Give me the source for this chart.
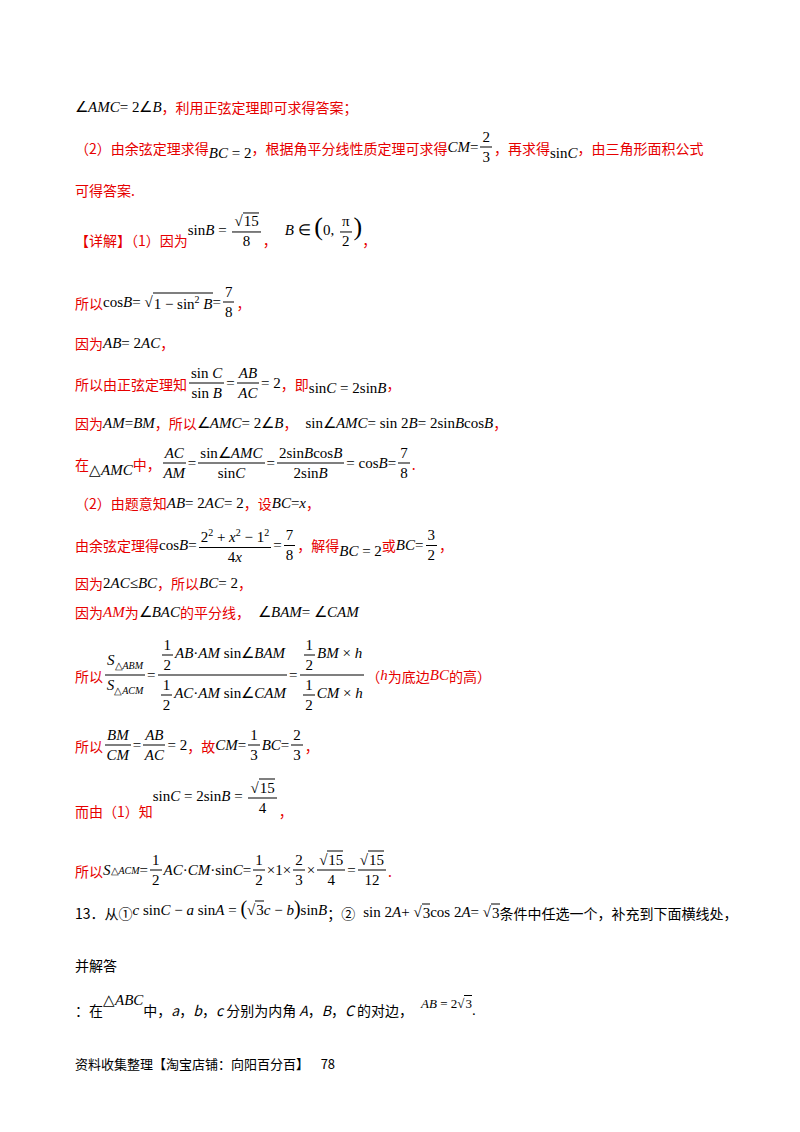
<!DOCTYPE html>
<html><head><meta charset="utf-8">
<script src="https://cdn.jsdelivr.net/npm/chart.js@4"></script>
<style>
body{margin:0;width:800px;height:1132px;background:#fff;position:relative;overflow:hidden}
.ln{position:absolute;left:75px;white-space:nowrap;font-family:"Liberation Serif","Times New Roman",serif;font-size:15px;color:#000;transform:translateY(-50%);display:flex;align-items:center}
.r{color:#e60000;font-family:"Noto Sans CJK SC",sans-serif;font-size:14px}
.k{color:#000;font-family:"Noto Sans CJK SC",sans-serif;font-size:14px}
i{font-style:italic}
.fr{display:inline-flex;flex-direction:column;align-items:center;vertical-align:middle;margin:0 2px}
.fr>span:first-child{border-bottom:1px solid #000;padding:0 2px}
.fr>span{line-height:19px}
.sq{border-top:1px solid #000;padding-left:1px}
.sub{font-size:10px;vertical-align:-4px}
.sup{font-size:10px;vertical-align:6px}
.m{margin:0 4px}
</style></head><body>
<script>
const f=(a,b)=>`<span class="fr"><span>${a}</span><span>${b}</span></span>`;
const R=t=>`<span class="r">${t}</span>`;
const rt=t=>`√<span class="sq">${t}</span>`;
const h=`<i>h</i>`;
// page lines: [y, html]
const lineY=[107,147,190,240,302,343,383,423,463,503,545,583,612,675,745,810,870,912,965,1010,1063];
const lineHtml=[
`∠<i>AMC</i> = 2∠<i>B</i>${R('，利用正弦定理即可求得答案；')}`,
`${R('（2）由余弦定理求得')}<span style="position:relative;top:6px"><i>BC</i> = 2</span>${R('，根据角平分线性质定理可求得')}<i>CM</i> = ${f('2','3')}${R('，再求得')}<span style="position:relative;top:6px">sin<i>C</i></span>${R('，由三角形面积公式')}`,
`${R('可得答案.')}`,
`${R('【详解】（1）因为')}<span style="position:relative;top:-8px">sin<i>B</i> = ${f(rt('15'),'8')}</span>${R('，')}<span class="m"></span><span style="position:relative;top:-8px"><i>B</i> ∈ <span style="font-size:26px">(</span>0, ${f('π','2')}<span style="font-size:26px">)</span></span>${R('，')}`,
`${R('所以')}cos<i>B</i> = ${rt('1 − sin<span class="sup">2</span> <i>B</i>')} = ${f('7','8')}${R('，')}`,
`${R('因为')}<i>AB</i> = 2<i>AC</i>${R('，')}`,
`${R('所以由正弦定理知')}${f('sin <i>C</i>','sin <i>B</i>')} = ${f('<i>AB</i>','<i>AC</i>')} = 2${R('，即')}<span style="position:relative;top:5px">sin<i>C</i> = 2sin<i>B</i></span>${R('，')}`,
`${R('因为')}<i>AM</i> = <i>BM</i>${R('，所以')}∠<i>AMC</i> = 2∠<i>B</i>${R('，')}<span class="m"></span>sin∠<i>AMC</i> = sin 2<i>B</i> = 2sin<i>B</i>cos<i>B</i>${R('，')}`,
`${R('在')}<span style="position:relative;top:6px">△<i>AMC</i></span>${R('中，')}${f('<i>AC</i>','<i>AM</i>')} = ${f('sin∠<i>AMC</i>','sin<i>C</i>')} = ${f('2sin<i>B</i>cos<i>B</i>','2sin<i>B</i>')} = cos<i>B</i> = ${f('7','8')}<span class="r">.</span>`,
`${R('（2）由题意知')}<i>AB</i> = 2<i>AC</i> = 2${R('，设')}<i>BC</i> = <i>x</i>${R('，')}`,
`${R('由余弦定理得')}cos<i>B</i> = ${f('2<span class="sup">2</span> + <i>x</i><span class="sup">2</span> − 1<span class="sup">2</span>','4<i>x</i>')} = ${f('7','8')}${R('，解得')}<span style="position:relative;top:6px"><i>BC</i> = 2</span>${R('或')}<i>BC</i> = ${f('3','2')}${R('，')}`,
`${R('因为')}2<i>AC</i> ≤ <i>BC</i>${R('，所以')}<i>BC</i> = 2${R('，')}`,
`${R('因为')}<span style="color:#e60000"><i>AM</i></span>${R('为')}∠<i>BAC</i>${R('的平分线，')}<span class="m"></span>∠<i>BAM</i> = ∠<i>CAM</i>`,
`${R('所以')}${f('<i>S</i><span class="sub">△<i>ABM</i></span>','<i>S</i><span class="sub">△<i>ACM</i></span>')} = ${f(f('1','2')+'<i>AB</i>·<i>AM</i> sin∠<i>BAM</i>',f('1','2')+'<i>AC</i>·<i>AM</i> sin∠<i>CAM</i>')} = ${f(f('1','2')+'<i>BM</i> × '+h,f('1','2')+'<i>CM</i> × '+h)}${R('（')}<span style="color:#e60000"><i>h</i></span>${R('为底边')}<span style="color:#e60000"><i>BC</i></span>${R('的高）')}`,
`${R('所以')}${f('<i>BM</i>','<i>CM</i>')} = ${f('<i>AB</i>','<i>AC</i>')} = 2${R('，故')}<i>CM</i> = ${f('1','3')}<i>BC</i> = ${f('2','3')}${R('，')}`,
`${R('而由（1）知')}<span style="position:relative;top:-12px">sin<i>C</i> = 2sin<i>B</i> = ${f(rt('15'),'4')}</span>${R('，')}`,
`${R('所以')}<i>S</i><span class="sub">△<i>ACM</i></span> = ${f('1','2')}<i>AC</i>·<i>CM</i>·sin<i>C</i> = ${f('1','2')}×1×${f('2','3')}×${f(rt('15'),'4')} = ${f(rt('15'),'12')}<span class="r">.</span>`,
`<span class="k">13．从①</span><span style="position:relative;top:-4px"><i>c</i> sin<i>C</i> − <i>a</i> sin<i>A</i> = <span style="font-size:20px">(</span>${rt('3')}<i>c</i> − <i>b</i><span style="font-size:20px">)</span>sin<i>B</i></span><span class="k">；②</span><span class="m"></span>sin 2<i>A</i> + ${rt('3')}cos 2<i>A</i> = ${rt('3')}<span class="k">条件中任选一个，补充到下面横线处，</span>`,
`<span class="k">并解答</span>`,
`<span class="k">：在</span><span style="position:relative;top:-10px">△<i>ABC</i></span><span class="k">中，<i>a</i>，<i>b</i>，<i>c</i> 分别为内角 <i>A</i>，<i>B</i>，<i>C</i> 的对边，</span><span class="m"></span><span style="position:relative;top:-6px;font-size:13px"><i>AB</i> = 2${rt('3')}</span>.`,
`<span class="k" style="font-size:13px">资料收集整理【淘宝店铺：向阳百分百】 &nbsp;&nbsp;&nbsp;78</span>`
];
lineY.forEach((y,i)=>{
  const d=document.createElement('div');
  d.className='ln';d.style.top=y+'px';d.innerHTML=lineHtml[i];
  document.body.appendChild(d);
});
</script>
</body></html>
